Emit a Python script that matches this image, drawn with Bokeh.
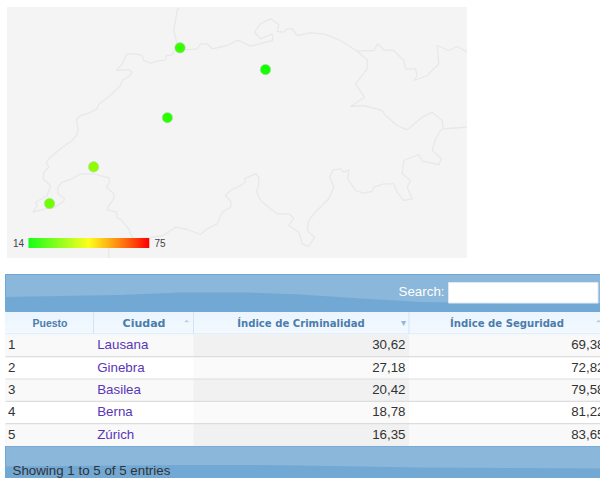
from bokeh.plotting import figure
from bokeh.models import Range1d
from bokeh.core.properties import value
from bokeh.embed import file_html
from bokeh.resources import INLINE

# ---- data ----
ranks = [1, 2, 3, 4, 5]
cities = ["Lausana", "Ginebra", "Basilea", "Berna", "Zúrich"]
crime = [30.62, 27.18, 20.42, 18.78, 16.35]
safety = [69.38, 72.82, 79.58, 81.22, 83.65]
lons = [6.63, 6.14, 7.59, 7.45, 8.54]
lats = [46.52, 46.20, 47.56, 46.95, 47.37]
legend_min = 14
legend_max = 75
columns = ["Puesto", "Ciudad", "Índice de Criminalidad", "Índice de Seguridad"]

# border traces, in a traced-sheet grid, converted to lon/lat below
swiss_trace = [
 (177,47),(175.7,48.3),(170.7,55),(165.7,55),(165,59.3),(156.7,60.7),(150,62.7),(143.3,60),(141.7,55),(135,53.3),
 (126.7,53.3),(124,58.3),(121.7,63.3),(116,70),(128.3,69.3),(131.7,71.7),(128.3,76),(121.7,80),(120,85),(111.7,93.3),
 (103.3,100),(98.3,104),(96.7,108.3),(88.3,112.7),(80,115),(76,119.3),(77.7,129.3),(76,135),(71.7,140),(60,148.3),
 (50,156.7),(45.7,161.7),(48.3,166.7),(43.3,171.7),(42.7,178.3),(50,185),(46.7,195),(35,201.7),(36.7,205),(32.3,211.7),
 (45,208.3),(53.3,207.3),(63.3,200.7),(64,197.7),(57.3,193.3),(57.3,186.7),(61.7,181.7),(71.7,178.3),(80,173.3),(93.3,173.3),
 (108.3,177.3),(109.3,181.7),(106,186.7),(113.3,193.3),(113.3,198.3),(108.3,205),(106.7,209.3),(116,211.7),(116.7,217.3),(120.7,219.3),
 (128.3,228.3),(130,233.3),(133.3,238.3),(146.7,237.3),(163,235),(175,226.7),(186.7,229),(200,234),(206.7,228.3),(216.7,223.3),
 (221.7,211.7),(230,206.7),(230.7,201.7),(225,195),(230,190),(240,185),(245,181.7),(244,178.3),(255,173.3),(258.3,176.7),
 (258.3,185),(256,190.7),(260,200),(270,208.3),(276.7,213.3),(288.3,213.3),(293.3,217.3),(288.3,225),(298.3,231.7),(301.7,243.3),
 (308.3,246),(314,236.7),(306.7,230),(308.3,220),(313.3,213.3),(328.3,198.3),(333.3,186.7),(329.3,176.7),(332.7,169.3),(340,168.3),
 (343.3,171.7),(348.3,169.3),(347.3,178.3),(355,190),(363.3,192.7),(371.7,191),(373.3,186.7),(383.3,183.3),(393.3,183.3),(396.7,191.7),
 (403.3,200),(411.7,198.3),(406.7,186.7),(410,180),(401.7,173.3),(403.3,160),(418.3,154),(421.7,160.7),(438.3,164),(441,158.3),
 (431.7,150),(435,138.3),(440,130),(442.7,128.3),(441.7,120),(431.7,111.7),(421.7,116.7),(406.7,129.3),(396.7,125),(385,115),
 (381.7,110),(363.3,105),(350,106),(364,96.7),(355,83.3),(366.7,68.3),(366.7,59.3),(356.7,50.7),(340,40),(323.3,33.3),
 (310,32.3),(296.7,35),(291.7,28.3),(286.7,28.3),(283.3,31.7),(276.7,31),(278.3,24),(270,18.3),(260,23.3),(254,31.7),
 (260,38.3),(271.7,33.3),(272.3,40),(261.7,42.7),(250,45.7),(240,40.7),(236.7,40),(226.7,45),(211.7,48.3),(206.7,43.3),
 (200,43.3),(196.7,48.3),(186.7,49.3),(177,47),(175,36.7),(173.3,30),(175,20),(176.7,10),(178.3,7.3),
]
east_trace = [
 (356.7,50.7),(373.3,50),(377.3,43.3),(383.3,49.3),(393.3,50),(403.3,60),(405,68.3),(415,68.3),(416.7,75),(413.3,80),
 (426.7,75),(438.3,63.3),(436.7,45),(448.3,50),(456.7,46),(466.7,51.7),
]
se_trace = [(442.7,128.3),(448,128),(461,127),(466.7,126.7)]
sw_trace = [(133.3,238.3),(120,240),(108.3,248),(108.3,257.7)]

def to_lon(tr): return [6.14 + (a - 49) / 90 for a, _ in tr]
def to_lat(tr): return [46.2 + (203 - b) / 114.5 for _, b in tr]

def ramp(t):
    if t < 0.5:
        return (int(round(255 * t * 2)), 255, 0)
    return (255, int(round(255 * (1 - (t - 0.5) * 2))), 0)
def hexc(c): return "#%02x%02x%02x" % c
def mix(a, b, t):
    return tuple(int(round(a[i] + (b[i] - a[i]) * t)) for i in range(3))

L, T, R, B = 0, 0, 600, 478
p = figure(width=R - L, height=B - T, x_range=Range1d(L, R), y_range=Range1d(B, T),
           x_axis_type=None, y_axis_type=None, toolbar_location=None, output_backend="svg",
           min_border=0, outline_line_color=None, background_fill_color="white")
p.grid.visible = False
p.extra_x_ranges["lon"] = Range1d(6.14 + (L - 49) / 90, 6.14 + (R - 49) / 90)
p.extra_y_ranges["lat"] = Range1d(46.2 + (203 - B) / 114.5, 46.2 + (203 - T) / 114.5)
font = value("Liberation Sans")

# map
p.quad(left=6.5, right=466.5, top=6.5, bottom=257.5, fill_color="#f4f4f4", line_color=None)
for tr in (swiss_trace, east_trace, se_trace, sw_trace):
    p.line(to_lon(tr), to_lat(tr), x_range_name="lon", y_range_name="lat", line_color="#e8e8e8", line_width=1.3)
dot_colors = [hexc(ramp((v - legend_min) / (legend_max - legend_min))) for v in crime]
p.scatter(lons, lats, x_range_name="lon", y_range_name="lat", size=10.5, fill_color=dot_colors,
          line_color="#cfcfcf", line_width=0.6)

# legend
n = 121
x0, x1 = 28, 148.5
w = (x1 - x0) / n
p.quad(left=[x0 + i * w for i in range(n)], right=[x0 + (i + 1) * w + 0.3 for i in range(n)], top=237.5, bottom=247.5,
       fill_color=[hexc(ramp(i / (n - 1))) for i in range(n)], line_color=None)
p.text([18], [242.5], text=[str(legend_min)], text_font=font, text_font_size="10px", text_color="#444444",
       text_align="center", text_baseline="middle")
p.text([159.5], [242.5], text=[str(legend_max)], text_font=font, text_font_size="10px", text_color="#444444",
       text_align="center", text_baseline="middle")

# table chrome
def band(y0, y1):
    p.quad(left=4.5, right=600, top=y0, bottom=y1, fill_color="#72a8d4", line_color=None)
band(274, 311)
band(445.5, 478)
curve_x = [5, 60, 120, 180, 250, 300, 360, 420, 510, 600, 600, 5]
top_curve = [296.5, 295.5, 294.5, 292, 292, 294, 298, 301.5, 303, 303, 274.5, 274.5]
foot_curve = [466, 465.5, 465, 464.5, 464.5, 465, 466, 467, 467.5, 468, 446, 446]
p.patch(curve_x, top_curve, fill_color="#8ab7da", line_color=None)
p.patch(curve_x, foot_curve, fill_color="#8ab7da", line_color=None)
p.line([5, 600], [274, 274], line_color="#6fa8d8", line_width=1)
p.line([5, 600], [445.5, 445.5], line_color="#6fa8d8", line_width=1)
p.line([5, 5], [274, 311], line_color="#6fa8d8", line_width=1)
p.line([5, 5], [445.5, 478], line_color="#6fa8d8", line_width=1)

# header gradient
hy0, hy1 = 311, 333.5
steps = 22
h = (hy1 - hy0) / steps
p.quad(left=4.5, right=600, top=[hy0 + i * h for i in range(steps)], bottom=[hy0 + (i + 1) * h for i in range(steps)],
       fill_color=[hexc(mix((228, 241, 253), (243, 249, 255), i / (steps - 1))) for i in range(steps)], line_color=None)
col_edges = [5, 93, 193, 408.5, 605]
p.segment(col_edges[1:4], hy0, col_edges[1:4], hy1, line_color="#d2e5f6", line_width=1)
p.line([5, 600], [hy0, hy0], line_color="#6fa8d8", line_width=1)
p.line([5, 600], [hy1, hy1], line_color="#d2e5f6", line_width=1)

header_kw = dict(text_align="center", text_baseline="middle", text_color="#4a7dae")
p.text([49.5], [322.5], text=[columns[0]], text_font=font, text_font_size="10.5px", text_font_style="bold", **header_kw)
p.text([143.5], [322.5], text=[columns[1]], text_font=value("DejaVu Sans"), text_font_size="11px", text_font_style="bold", **header_kw)
p.text([300.5], [322.5], text=[columns[2]], text_font=value("DejaVu Sans"), text_font_size="10.1px", text_font_style="bold", **header_kw)
p.text([506.5], [322.5], text=[columns[3]], text_font=value("DejaVu Sans"), text_font_size="10.1px", text_font_style="bold", **header_kw)
p.text([186], [323], text=["⌃"], text_font=value("DejaVu Sans"), text_font_size="9px", text_color="#8fb7da", text_align="center", text_baseline="middle")
p.text([403], [321.5], text=["▾"], text_font=value("DejaVu Sans"), text_font_size="10px", text_color="#8fb7da", text_align="center", text_baseline="middle")
p.text([598], [323], text=["⌃"], text_font=value("DejaVu Sans"), text_font_size="9px", text_color="#8fb7da", text_align="center", text_baseline="middle")

# rows
rt = 333.8
rh = 22.35
tops = [rt + i * rh for i in range(len(ranks))]
bots = [t + rh for t in tops]
mids = [t + rh / 2 - 0.8 for t in tops]
p.quad(left=4.5, right=600, top=tops, bottom=bots, fill_color=["#f9f9f9" if i % 2 == 0 else "#ffffff" for i in range(5)], line_color=None)
p.quad(left=193, right=408.5, top=tops, bottom=bots, fill_color=["#f1f1f1" if i % 2 == 0 else "#fafafa" for i in range(5)], line_color=None)
p.segment(5, bots[:-1], 600, bots[:-1], line_color="#dddddd", line_width=1.2)

cell = dict(text_font=font, text_font_size="13.33px", text_baseline="middle")
p.text([7.5] * 5, mids, text=[str(r) for r in ranks], text_color="#333333", text_align="left", **cell)
p.text([96.7] * 5, mids, text=cities, text_color="#5a35b8", text_align="left", **cell)
p.text([405] * 5, mids, text=[f"{v:.2f}".replace(".", ",") for v in crime], text_color="#333333", text_align="right", **cell)
p.text([604] * 5, mids, text=[f"{v:.2f}".replace(".", ",") for v in safety], text_color="#333333", text_align="right", **cell)

# search and info
p.text([444], [291], text=["Search:"], text_font=font, text_font_size="13.33px", text_color="#ffffff", text_align="right", text_baseline="middle")
p.quad(left=448, right=597.5, top=282, bottom=302.5, fill_color="#ffffff", line_color="#dde8f2", line_width=1)
p.text([12], [469.5], text=["Showing 1 to 5 of 5 entries"], text_font=font, text_font_size="13.33px", text_color="#333333", text_align="left", text_baseline="middle")

open("out.html", "w").write(file_html(p, INLINE))
